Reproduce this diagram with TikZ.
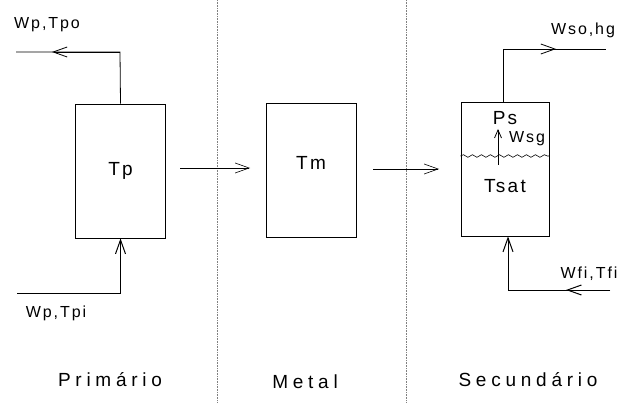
\documentclass[tikz,border=0pt]{standalone}
\usepackage{fontspec}
\setmainfont{Liberation Sans}[LetterSpace=12]
\newfontfamily\widefont{Liberation Sans}[LetterSpace=25]
\usepackage{tikz}
\usetikzlibrary{positioning, arrows.meta, calc, decorations.pathmorphing}

\begin{document}
\begin{tikzpicture}[x=1pt, y=-1pt, every node/.style={font=\fontsize{16}{18}\selectfont, inner sep=0pt},
    vol/.style={draw, line width=0.8pt, minimum width=90pt, minimum height=134pt},
    flow/.style={line width=0.8pt},
    barb/.style={line width=0.8pt, -{Straight Barb[length=14pt, width=10pt]}},
    region/.style={font=\widefont\fontsize{19}{21}\selectfont},
    divider/.style={densely dotted, gray, line width=0.6pt}]
        \useasboundingbox (0,0) rectangle (644,403);
        % dividers
        \draw[divider] (217,0) -- (217,403);
        \draw[divider] (406,0) -- (406,403);
        % volumes
        \node[vol] (tp) at (120.5,171) {\fontsize{19}{21}\selectfont Tp};
        \node[vol] (tm) at (311,170) {};
        \node[font=\fontsize{19}{21}\selectfont] (tmlabel) at (311,163) {Tm};
        \node[vol, minimum width=88pt] (ts) at (505,169) {};
        \node[font=\fontsize{19}{21}\selectfont] (ps) at (505,118) {Ps};
        \node[font=\fontsize{19}{21}\selectfont] (tsat) at (505,186) {Tsat};
        \node (wsg) at (527,139) {Wsg};
        \draw[decorate, decoration={snake, amplitude=1.3pt, segment length=9pt}, line width=0.6pt] (ts.west |- 0,156) -- (ts.east |- 0,156);
        \coordinate (wsgfoot) at (498,165);
        \coordinate (wsgtip) at (498,129);
        \draw[flow, -{Straight Barb[length=8pt, width=7pt]}] (wsgfoot) -- (wsgtip);
        % heat flow
        \coordinate (q1a) at (180,168);
        \coordinate (q1b) at (250,168);
        \coordinate (q2a) at (373,169);
        \coordinate (q2b) at (439,169);
        \draw[barb, line width=0.6pt] (q1a) -- (q1b);
        \draw[barb, line width=0.6pt] (q2a) -- (q2b);
        % primary side
        \coordinate (tpocorner) at (120,52);
        \coordinate (tpomid) at (52,52);
        \coordinate (tpoend) at (16,52);
        \draw[flow] (tp.north) -- (tpocorner) -- (tpoend);
        \draw[barb] (tpocorner) -- (tpomid);
        \node (tpo) at (47,25) {Wp,Tpo};
        \coordinate (tpistart) at (17,293);
        \draw[barb, line width=1pt] (tpistart) -| (tp.south);
        \node (tpi) at (56,313) {Wp,Tpi};
        % secondary side
        \coordinate (sococorner) at (503,49);
        \coordinate (socomid) at (556,49);
        \coordinate (socoend) at (606,49);
        \draw[flow] (ts.north -| sococorner) -- (sococorner) -- (socoend);
        \draw[barb] (sococorner) -- (socomid);
        \node (soc) at (583,30) {Wso,hg};
        \coordinate (ficorner) at (508,290);
        \coordinate (fimid) at (566,290);
        \coordinate (fistart) at (610,290);
        \draw[flow, line width=1pt] (fistart) -- (ficorner);
        \draw[barb, line width=1pt] (fistart) -- (fimid);
        \draw[barb, line width=1pt] (ficorner) -- (ficorner |- ts.south);
        \node (fi) at (589,274) {Wfi,Tfi};
        % regions
        \node[region] (prim) at (110,380) {Primário};
        \node[region] (met) at (305,382) {Metal};
        \node[region] (sec) at (528,380) {Secundário};
      \end{tikzpicture}
\end{document}
